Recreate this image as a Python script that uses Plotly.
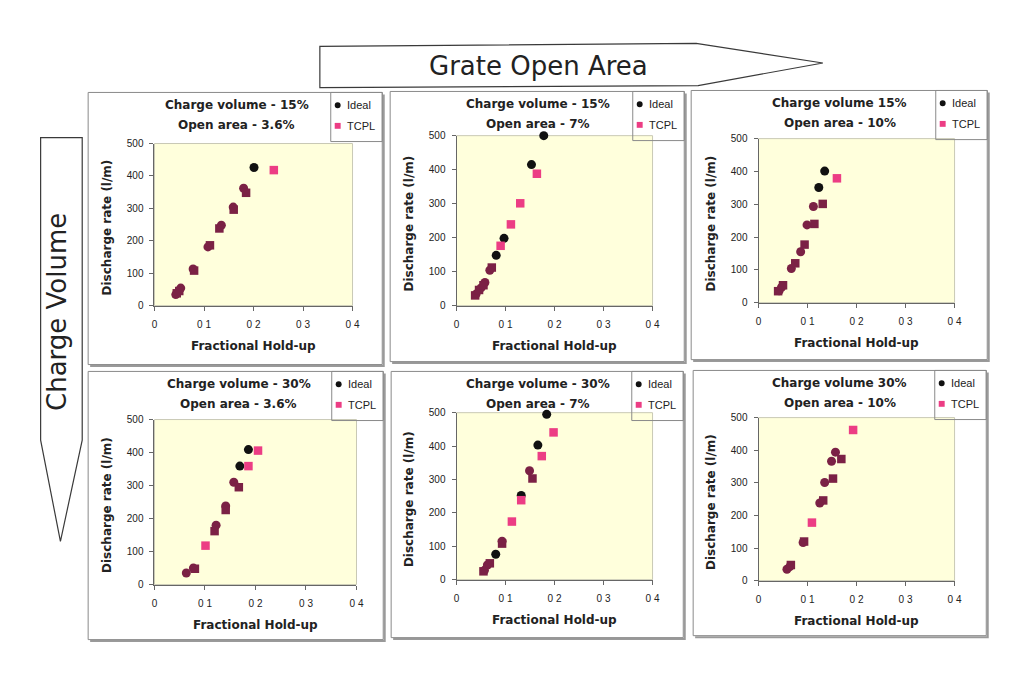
import plotly.graph_objects as go

W, H = 1019, 679

# ---------------- data ----------------
x_ticks = [0, 0.1, 0.2, 0.3, 0.4]
x_tick_labels = ["0", "0 1", "0 2", "0 3", "0 4"]
y_ticks = [0, 100, 200, 300, 400, 500]

row_label = "Charge Volume"
col_label = "Grate Open Area"
x_title = "Fractional Hold-up"
y_title = "Discharge rate (l/m)"
series_names = ["Ideal", "TCPL"]

titles = [
    ("Charge volume - 15%", "Open area - 3.6%"),
    ("Charge volume - 15%", "Open area - 7%"),
    ("Charge volume 15%", "Open area - 10%"),
    ("Charge volume - 30%", "Open area - 3.6%"),
    ("Charge volume - 30%", "Open area - 7%"),
    ("Charge volume 30%", "Open area - 10%"),
]

# Charge volume 15%, open area 3.6%
cv15_oa36_ideal_x = [0.043, 0.053, 0.078, 0.108, 0.135, 0.159, 0.180, 0.201]
cv15_oa36_ideal_y = [34, 54, 113, 181, 248, 304, 362, 426]
cv15_oa36_tcpl_x = [0.045, 0.050, 0.080, 0.112, 0.131, 0.160, 0.185, 0.241]
cv15_oa36_tcpl_y = [38, 45, 108, 186, 238, 296, 348, 418]

# Charge volume 15%, open area 7%
cv15_oa7_ideal_x = [0.040, 0.050, 0.058, 0.068, 0.081, 0.097, 0.153, 0.178]
cv15_oa7_ideal_y = [34, 52, 68, 104, 148, 198, 415, 500]
cv15_oa7_tcpl_x = [0.038, 0.046, 0.055, 0.072, 0.090, 0.111, 0.130, 0.164]
cv15_oa7_tcpl_y = [30, 46, 60, 112, 176, 239, 301, 388]

# Charge volume 15%, open area 10%
cv15_oa10_ideal_x = [0.042, 0.047, 0.067, 0.086, 0.099, 0.112, 0.123, 0.135]
cv15_oa10_ideal_y = [36, 47, 104, 155, 237, 293, 351, 401]
cv15_oa10_tcpl_x = [0.040, 0.050, 0.075, 0.094, 0.114, 0.131, 0.160]
cv15_oa10_tcpl_y = [35, 53, 120, 177, 240, 301, 379]

# Charge volume 30%, open area 3.6%
cv30_oa36_ideal_x = [0.063, 0.077, 0.122, 0.141, 0.157, 0.169, 0.186]
cv30_oa36_ideal_y = [35, 50, 180, 238, 310, 359, 409]
cv30_oa36_tcpl_x = [0.080, 0.101, 0.119, 0.141, 0.167, 0.186, 0.205]
cv30_oa36_tcpl_y = [48, 118, 162, 226, 295, 359, 406]

# Charge volume 30%, open area 7%
cv30_oa7_ideal_x = [0.057, 0.063, 0.080, 0.093, 0.132, 0.149, 0.166, 0.184]
cv30_oa7_ideal_y = [28, 44, 76, 115, 252, 326, 403, 495]
cv30_oa7_tcpl_x = [0.055, 0.068, 0.093, 0.113, 0.132, 0.155, 0.174, 0.198]
cv30_oa7_tcpl_y = [25, 49, 108, 174, 238, 303, 370, 441]

# Charge volume 30%, open area 10%
cv30_oa10_ideal_x = [0.058, 0.064, 0.091, 0.125, 0.135, 0.149, 0.157]
cv30_oa10_ideal_y = [35, 43, 117, 238, 301, 366, 394]
cv30_oa10_tcpl_x = [0.066, 0.093, 0.109, 0.132, 0.152, 0.169, 0.193]
cv30_oa10_tcpl_y = [48, 120, 178, 246, 313, 373, 462]

# ---------------- styling ----------------
# printed tone of each marker as it appears in the scan: k=black, m=maroon, p=pink
ideal_tones = ["mmmmmmmk", "mmmmkkkk", "mmmmmmkk", "mmmmmkk", "mmkmkmkk", "mmmmmmm"]
tcpl_tones = ["mmmmmmmp", "mmmmpppp", "mmmmmmp", "mpmmmpp", "mmmppmpp", "mmpmmmp"]
TONE = {"k": "#111111", "m": "#7B2145", "p": "#EC3D84"}

FONT_TXT = "DejaVu Sans"
FONT_TICK = "Liberation Sans"
AXIS_COL = "#666666"
BG_YELLOW = "#FFFFDC"

# panel geometry in pixels: box (x0, x1, top, bottom), plot (x0, x1, top, bottom)
geom = [
    dict(box=(86, 383, 88, 365), plot=(153, 353, 140, 305)),
    dict(box=(391, 688, 87, 362), plot=(458, 656, 132, 305)),
    dict(box=(695, 994, 86, 360), plot=(763, 961, 135, 302)),
    dict(box=(86, 384, 372, 645), plot=(153, 357, 421, 589)),
    dict(box=(392, 687, 372, 643), plot=(458, 656, 414, 584)),
    dict(box=(697, 993, 371, 641), plot=(763, 961, 419, 585)),
]

series = [
    (cv15_oa36_ideal_x, cv15_oa36_ideal_y, cv15_oa36_tcpl_x, cv15_oa36_tcpl_y),
    (cv15_oa7_ideal_x, cv15_oa7_ideal_y, cv15_oa7_tcpl_x, cv15_oa7_tcpl_y),
    (cv15_oa10_ideal_x, cv15_oa10_ideal_y, cv15_oa10_tcpl_x, cv15_oa10_tcpl_y),
    (cv30_oa36_ideal_x, cv30_oa36_ideal_y, cv30_oa36_tcpl_x, cv30_oa36_tcpl_y),
    (cv30_oa7_ideal_x, cv30_oa7_ideal_y, cv30_oa7_tcpl_x, cv30_oa7_tcpl_y),
    (cv30_oa10_ideal_x, cv30_oa10_ideal_y, cv30_oa10_tcpl_x, cv30_oa10_tcpl_y),
]


def px(x):
    return x / W


def py(y):
    return 1 - y / H


fig = go.Figure()
shapes = []
annotations = []
layout_axes = {}

for i, (g, s, t) in enumerate(zip(geom, series, titles)):
    n = i + 1
    sfx = "" if n == 1 else str(n)
    ix, iy, tx, ty = s
    bx0, bx1, btop, bbot = g["box"]
    x0, x1, ptop, pbot = g["plot"]

    layout_axes["xaxis" + sfx] = dict(
        domain=[px(x0), px(x1)], range=[0, 0.4], anchor="y" + sfx,
        tickvals=x_ticks, ticktext=x_tick_labels,
        showline=True, linecolor=AXIS_COL, linewidth=1,
        ticks="outside", ticklen=4, tickcolor=AXIS_COL,
        showgrid=False, zeroline=False, ticklabelstandoff=5,
        tickfont=dict(family=FONT_TICK, size=10, color="#222222"),
        fixedrange=True,
    )
    layout_axes["yaxis" + sfx] = dict(
        domain=[py(pbot), py(ptop)], range=[0, 500], anchor="x" + sfx,
        tickvals=y_ticks,
        showline=True, linecolor=AXIS_COL, linewidth=1,
        ticks="outside", ticklen=4, tickcolor=AXIS_COL,
        showgrid=False, zeroline=False, ticklabelstandoff=4,
        tickfont=dict(family=FONT_TICK, size=10, color="#222222"),
        fixedrange=True,
    )

    fig.add_trace(go.Scatter(
        x=ix, y=iy, mode="markers", name=series_names[0],
        xaxis="x" + sfx, yaxis="y" + sfx, cliponaxis=False, showlegend=False,
        marker=dict(symbol="circle", size=9,
                    color=[TONE[c] for c in ideal_tones[i]], line=dict(width=0)),
    ))
    fig.add_trace(go.Scatter(
        x=tx, y=ty, mode="markers", name=series_names[1],
        xaxis="x" + sfx, yaxis="y" + sfx, cliponaxis=False, showlegend=False,
        marker=dict(symbol="square", size=8.5,
                    color=[TONE[c] for c in tcpl_tones[i]], line=dict(width=0)),
    ))

    # light border round the plot area (top / right)
    shapes.append(dict(type="rect", xref="x" + sfx + " domain", yref="y" + sfx + " domain",
                       x0=0, x1=1, y0=0, y1=1, line=dict(color="#C9C9B5", width=1),
                       layer="below"))

    # panel shadow + border
    shapes.append(dict(type="path", xref="paper", yref="paper",
                       path=f"M {px(bx0+2)},{py(bbot+1.5)} L {px(bx1+1.5)},{py(bbot+1.5)} L {px(bx1+1.5)},{py(btop+2)}",
                       line=dict(color="#9A9A9A", width=2)))
    shapes.append(dict(type="rect", xref="paper", yref="paper",
                       x0=px(bx0), x1=px(bx1), y0=py(bbot), y1=py(btop),
                       line=dict(color="#8A8A8A", width=1)))

    # legend box
    shapes.append(dict(type="rect", xref="paper", yref="paper",
                       x0=px(bx1 - 52), x1=px(bx1), y0=py(btop + 50), y1=py(btop),
                       line=dict(color="#8A8A8A", width=1)))
    gx = bx1 - 45
    cy1, cy2 = btop + 13, btop + 34
    shapes.append(dict(type="circle", xref="paper", yref="paper",
                       x0=px(gx - 3), x1=px(gx + 3), y0=py(cy1 + 3), y1=py(cy1 - 3),
                       fillcolor="#111111", line=dict(width=0)))
    shapes.append(dict(type="rect", xref="paper", yref="paper",
                       x0=px(gx - 3), x1=px(gx + 3), y0=py(cy2 + 3), y1=py(cy2 - 3),
                       fillcolor="#EC3D84", line=dict(width=0)))
    for label, yy in ((series_names[0], cy1), (series_names[1], cy2)):
        annotations.append(dict(xref="paper", yref="paper", x=px(gx + 7), y=py(yy),
                                text=label, showarrow=False, xanchor="left", yanchor="middle",
                                font=dict(family=FONT_TICK, size=11, color="#222222")))

    # titles
    for txt, yy in ((t[0], btop + 13), (t[1], btop + 33)):
        annotations.append(dict(xref="paper", yref="paper", x=px((x0 + x1) / 2 - 17),
                                y=py(yy), text=f"<b>{txt}</b>", showarrow=False,
                                xanchor="center", yanchor="middle",
                                font=dict(family=FONT_TXT, size=12, color="#222222")))
    # axis titles
    annotations.append(dict(xref="paper", yref="paper", x=px((x0 + x1) / 2), y=py(pbot + 41),
                            text=f"<b>{x_title}</b>", showarrow=False,
                            xanchor="center", yanchor="middle",
                            font=dict(family=FONT_TXT, size=12, color="#222222")))
    annotations.append(dict(xref="paper", yref="paper", x=px(x0 - 48), y=py((ptop + pbot) / 2 + 3),
                            text=f"<b>{y_title}</b>", showarrow=False, textangle=-90,
                            xanchor="center", yanchor="middle",
                            font=dict(family=FONT_TXT, size=12, color="#222222")))

# big arrows
top_arrow = [(320, 41), (700, 38), (828, 58), (702, 81), (320, 83)]
left_arrow = [(38, 134), (80, 134), (80, 442), (58, 545), (38, 442)]
for pts in (top_arrow, left_arrow):
    path = "M " + " L ".join(f"{px(a)},{py(b)}" for a, b in pts) + " Z"
    shapes.append(dict(type="path", xref="paper", yref="paper", path=path,
                       fillcolor="white", line=dict(color="#3A3A3A", width=1.2)))

annotations.append(dict(xref="paper", yref="paper", x=px(541), y=py(61), text=col_label,
                        showarrow=False, xanchor="center", yanchor="middle",
                        font=dict(family=FONT_TXT, size=26, color="#222222")))
annotations.append(dict(xref="paper", yref="paper", x=px(54), y=py(311), text=row_label,
                        showarrow=False, textangle=-90, xanchor="center", yanchor="middle",
                        font=dict(family=FONT_TXT, size=26, color="#222222")))

fig.update_layout(
    width=W, height=H, margin=dict(l=0, r=0, t=0, b=0),
    paper_bgcolor="white", plot_bgcolor=BG_YELLOW,
    shapes=shapes, annotations=annotations, showlegend=False,
    **layout_axes,
)

fig.write_html("out.html")
